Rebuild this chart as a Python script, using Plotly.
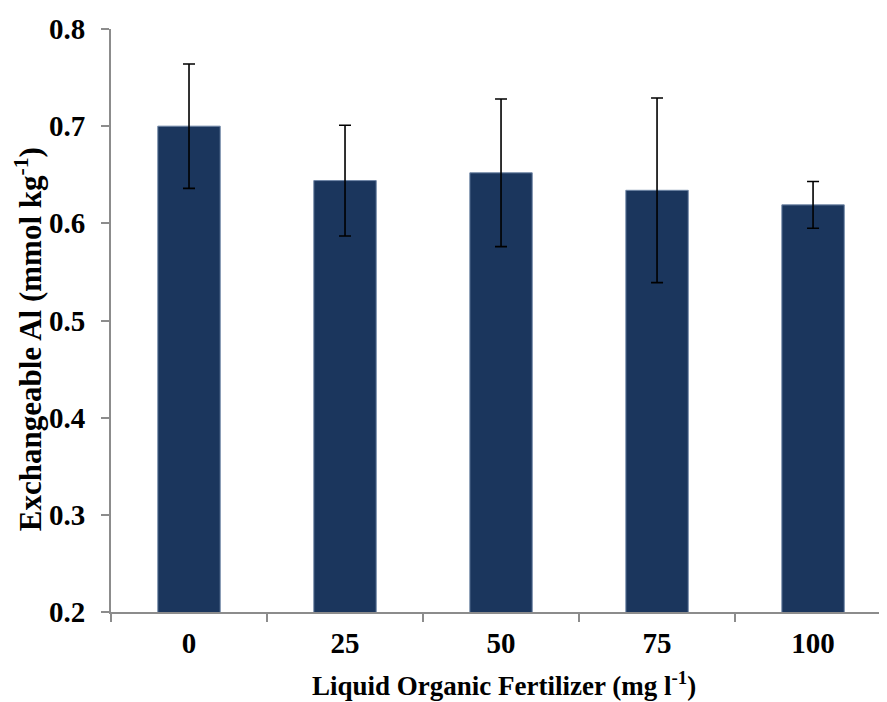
import plotly.graph_objects as go

categories = ["0", "25", "50", "75", "100"]
values = [0.700, 0.644, 0.652, 0.634, 0.619]
errors = [0.064, 0.057, 0.076, 0.095, 0.024]
y_ticks = [0.2, 0.3, 0.4, 0.5, 0.6, 0.7, 0.8]

font_family = "Liberation Serif"
x_title = "<b>Liquid Organic Fertilizer (mg l<sup>-1</sup>)</b>"
y_title = "<b>Exchangeable Al (mmol kg<sup>-1</sup>)</b>"

fig = go.Figure()
fig.add_trace(go.Bar(
    x=categories,
    y=values,
    width=0.4,
    marker=dict(color="#1B365D", line=dict(color="#6F86A6", width=1)),
    error_y=dict(type="data", array=errors, visible=True, color="black",
                 thickness=1.6, width=6),
))

# The page body adds an 8px offset, so the figure is sized 879x694
fig.update_layout(
    width=879, height=694,
    margin=dict(l=103, r=0, t=21, b=90, autoexpand=False),
    paper_bgcolor="white", plot_bgcolor="white",
    showlegend=False,
    font=dict(family=font_family, color="black"),
    xaxis=dict(
        type="category",
        range=[-0.5, 4.474],
        tickson="boundaries",
        ticks="outside", ticklen=8, tickwidth=2, tickcolor="#8C8C8C",
        showline=True, linecolor="#8C8C8C", linewidth=2,
        showgrid=False, automargin=False,
        tickfont=dict(family=font_family, size=29, color="black", weight="bold"),
        ticklabelstandoff=4,
    ),
    yaxis=dict(
        range=[0.2, 0.8],
        tickvals=y_ticks,
        tickformat=".1f",
        ticks="outside", ticklen=8, tickwidth=2, tickcolor="#8C8C8C",
        showline=True, linecolor="#8C8C8C", linewidth=2,
        showgrid=False, zeroline=False, automargin=False,
        tickfont=dict(family=font_family, size=29, color="black", weight="bold"),
        ticklabelstandoff=10,
    ),
    annotations=[
        dict(text=x_title, xref="paper", yref="paper", x=0.506, y=0,
             xanchor="center", yanchor="middle", yshift=-72, showarrow=False,
             font=dict(family=font_family, size=27, color="black")),
        dict(text=y_title, xref="paper", yref="paper", x=0, y=0.468,
             xanchor="center", yanchor="middle", xshift=-83, textangle=-90,
             showarrow=False,
             font=dict(family=font_family, size=31, color="black")),
    ],
)

fig.write_html("out.html")
